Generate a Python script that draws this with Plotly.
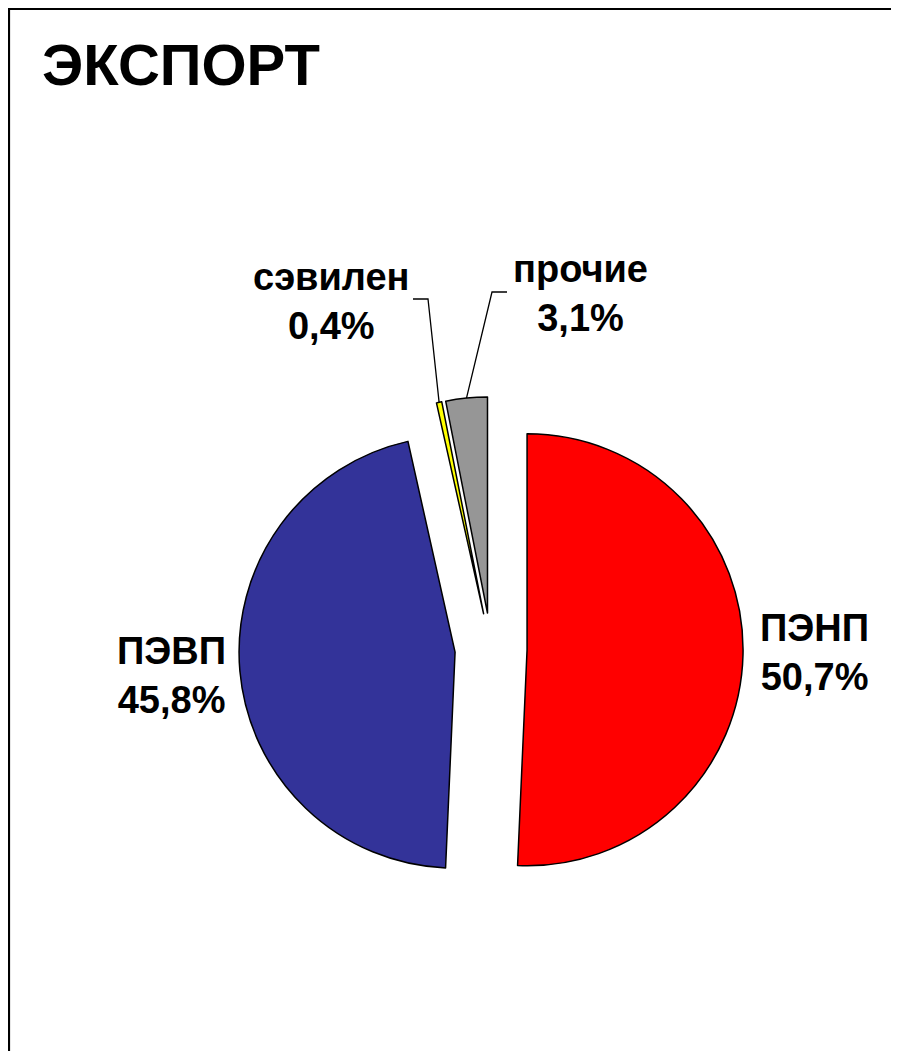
import math
import plotly.graph_objects as go

title = "ЭКСПОРТ"
labels = ["ПЭНП", "ПЭВП", "сэвилен", "прочие"]
values = [50.7, 45.8, 0.4, 3.1]
value_text = ["50,7%", "45,8%", "0,4%", "3,1%"]
colors = ["#FF0000", "#333399", "#FFFF00", "#969696"]

OFF = 8              # page body margin
W, H = 899 - OFF, 1051 - OFF
PULL = 0.167
R = 216              # target radius in px
CX, CY = 491, 649    # pie centre in page px

half = R * (1 + PULL)

def px(x):
    return (x - OFF) / W

def py(y):
    return 1 - (y - OFF) / H

fig = go.Figure(go.Pie(
    labels=labels, values=values, sort=False, direction="clockwise", rotation=0,
    marker=dict(colors=colors, line=dict(color="black", width=1.5)),
    pull=[PULL] * len(values), textinfo="none", hoverinfo="label+percent",
    showlegend=False,
    domain=dict(x=[px(CX - half), px(CX + half)], y=[py(CY + half), py(CY - half)]),
))

# label positions (page px) for each slice
label_pos = [(814, 652), (171, 675), (331, 301), (580, 293)]
annotations = [dict(text=f"<b>{title}</b>", x=px(40), y=py(64), xref="paper", yref="paper",
                    xanchor="left", yanchor="middle", showarrow=False,
                    font=dict(family="Liberation Sans, Arial", size=58, color="black"))]
for lab, vt, (lx, ly) in zip(labels, value_text, label_pos):
    annotations.append(dict(text=f"<b>{lab}<br>{vt}</b>", x=px(lx), y=py(ly), xref="paper", yref="paper",
                            xanchor="center", yanchor="middle", showarrow=False,
                            font=dict(family="Liberation Sans, Arial", size=38, color="black")))

# leader lines for the two small slices, ending at the slice's outer arc midpoint
total = sum(values)
cum = 0
mids = []
for v in values:
    mids.append((cum + v / 2) / total * 360)
    cum += v
shapes = []
leader_start = {2: ((413, 299), (428, 299)), 3: ((507, 292), (492, 292))}
for i, (p0, p1) in leader_start.items():
    a = math.radians(mids[i])
    ex = CX + (1 + PULL) * R * math.sin(a)
    ey = CY - (1 + PULL) * R * math.cos(a)
    shapes.append(dict(type="path", xref="paper", yref="paper",
                       path=f"M {px(p0[0])},{py(p0[1])} L {px(p1[0])},{py(p1[1])} L {px(ex)},{py(ey)}",
                       line=dict(color="black", width=1.3)))
# outer border (top and left edges)
shapes.append(dict(type="path", xref="paper", yref="paper",
                   path=f"M {px(9)},{py(1051)} L {px(9)},{py(9)} L {px(899)},{py(9)}",
                   line=dict(color="black", width=2.2)))

fig.update_layout(width=W, height=H, margin=dict(l=0, r=0, t=0, b=0),
                  paper_bgcolor="white", plot_bgcolor="white",
                  annotations=annotations, shapes=shapes)
fig.write_html("out.html", config={"displayModeBar": False})
